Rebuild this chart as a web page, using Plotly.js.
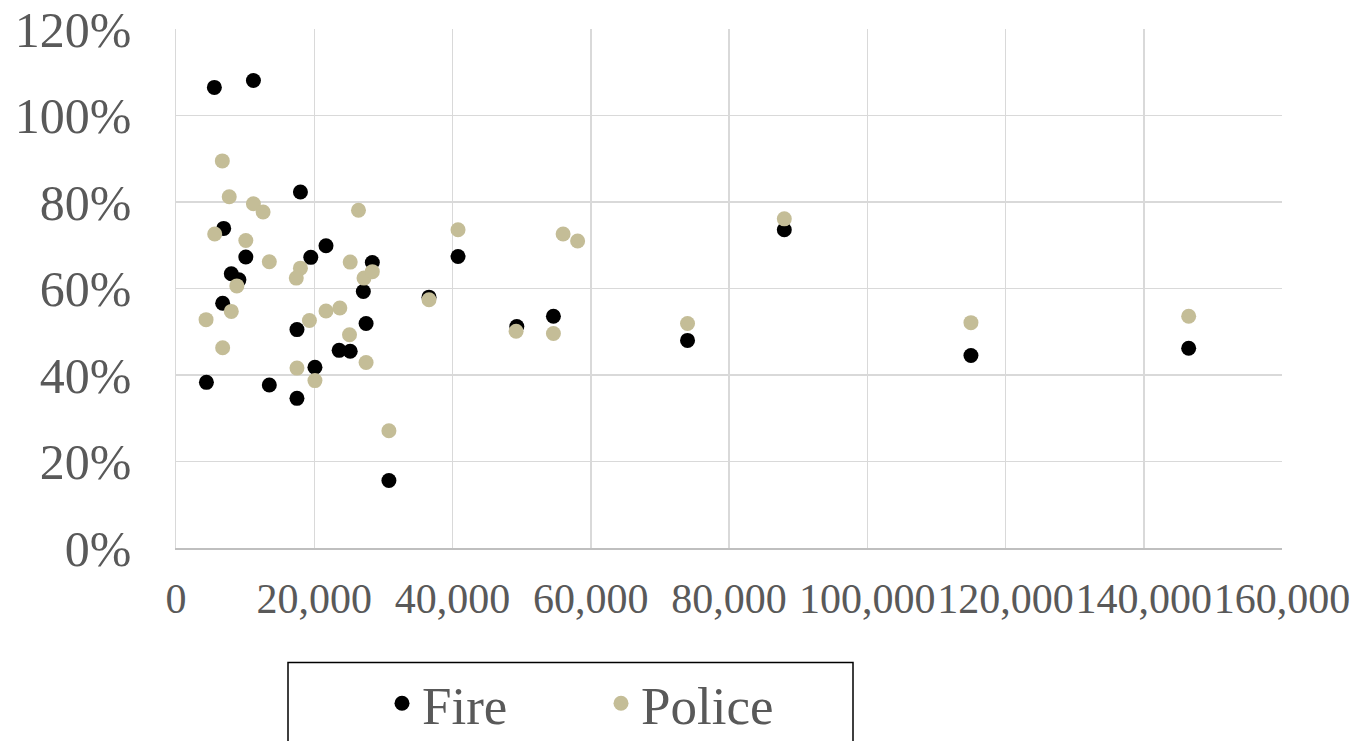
<!DOCTYPE html>
<html>
<head>
<meta charset="utf-8">
<script src="https://cdn.plot.ly/plotly-3.0.1.min.js"></script>
<style>html,body{margin:0;padding:0;background:#fff;}#chart{width:1356px;height:741px;}</style>
</head>
<body>
<div id="chart"></div>
<script>
// Fire series: population (x) and ratio (y, fraction)
const fireX = [5550, 11200, 6900, 18000, 21700, 10100, 8000, 9100, 19500, 28400, 6750, 27100, 36600, 40800, 17500, 27500, 23600, 25200, 20100, 4400, 13500, 17500, 30800, 49300, 54600, 74000, 88000, 115000, 146500];
const fireY = [1.065, 1.081, 0.739, 0.823, 0.699, 0.673, 0.634, 0.620, 0.672, 0.660, 0.566, 0.593, 0.580, 0.674, 0.505, 0.519, 0.457, 0.455, 0.418, 0.383, 0.377, 0.346, 0.156, 0.512, 0.536, 0.480, 0.736, 0.445, 0.462];
// Police series
const policeX = [6700, 7700, 11200, 12600, 5600, 10100, 13500, 18000, 17400, 8800, 8000, 4350, 6750, 26400, 25200, 27200, 28400, 21700, 23700, 19300, 25100, 17500, 20100, 27500, 30800, 36600, 40800, 49200, 54600, 56000, 58100, 74000, 88000, 115000, 146500];
const policeY = [0.895, 0.812, 0.796, 0.777, 0.726, 0.711, 0.662, 0.647, 0.624, 0.606, 0.547, 0.528, 0.463, 0.781, 0.661, 0.624, 0.639, 0.548, 0.555, 0.526, 0.493, 0.416, 0.387, 0.429, 0.271, 0.574, 0.736, 0.501, 0.496, 0.726, 0.710, 0.519, 0.761, 0.521, 0.536];
const seriesNames = ["Fire", "Police"];
const seriesColors = ["#000000", "#c4bd97"];

const fontFam = "'Liberation Serif', 'Times New Roman', serif";
const textGray = "#595959";

const traces = [
  {x: fireX, y: fireY, name: seriesNames[0], type: "scatter", mode: "markers",
   marker: {color: seriesColors[0], size: 15}},
  {x: policeX, y: policeY, name: seriesNames[1], type: "scatter", mode: "markers",
   marker: {color: seriesColors[1], size: 15}}
];

const L = 176, R = 1282, T = 29, B = 548.5;
const pw = R - L, ph = B - T;

const layout = {
  width: 1356, height: 741,
  margin: {l: L, r: 1356 - R, t: T, b: 741 - B, pad: 0, autoexpand: false},
  paper_bgcolor: "#ffffff", plot_bgcolor: "#ffffff",
  showlegend: true,
  xaxis: {
    range: [0, 160000], dtick: 20000, tick0: 0, tickformat: ",d", tickangle: 0,
    showgrid: true, gridcolor: "#d9d9d9", gridwidth: 1.5,
    zeroline: false, showline: true, linecolor: "#bfbfbf", linewidth: 1.5,
    ticks: "outside", ticklen: 13, tickcolor: "rgba(0,0,0,0)",
    tickfont: {family: fontFam, size: 42, color: textGray},
    fixedrange: true, automargin: false
  },
  yaxis: {
    range: [0, 1.2], dtick: 0.2, tick0: 0, tickformat: ".0%",
    showgrid: true, gridcolor: "#d9d9d9", gridwidth: 1.5,
    zeroline: false, showline: true, linecolor: "#d9d9d9", linewidth: 1.5,
    ticks: "outside", ticklen: 33, tickcolor: "rgba(0,0,0,0)",
    tickfont: {family: fontFam, size: 50, color: textGray},
    fixedrange: true, automargin: false
  },
  legend: {
    orientation: "h", xanchor: "left", yanchor: "middle",
    x: (382 - L) / pw, y: (B - 704) / ph,
    font: {family: fontFam, size: 53, color: textGray},
    bgcolor: "rgba(0,0,0,0)", borderwidth: 0,
    entrywidth: 174, entrywidthmode: "pixels",
    itemsizing: "trace"
  },
  shapes: [{
    type: "rect", xref: "paper", yref: "paper",
    x0: (288 - L) / pw, x1: (853 - L) / pw,
    y0: (B - 760) / ph, y1: (B - 663) / ph,
    line: {color: "#000000", width: 1.5}, fillcolor: "rgba(0,0,0,0)", layer: "above"
  }]
};

Plotly.newPlot("chart", traces, layout, {displayModeBar: false, staticPlot: true});
</script>
</body>
</html>
